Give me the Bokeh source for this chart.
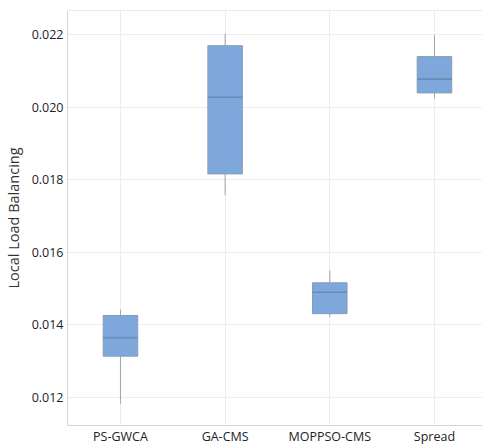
from bokeh.plotting import figure
from bokeh.models import FixedTicker, PrintfTickFormatter, Range1d, Span, ColumnDataSource
from bokeh.embed import file_html
from bokeh.resources import INLINE

categories = ["PS-GWCA", "GA-CMS", "MOPPSO-CMS", "Spread"]
whisker_low = [0.01183, 0.01757, 0.01421, 0.02024]
q1 = [0.01314, 0.01816, 0.01431, 0.02039]
median = [0.01365, 0.02027, 0.01490, 0.02077]
q3 = [0.01426, 0.02169, 0.01516, 0.02139]
whisker_high = [0.01442, 0.02202, 0.01550, 0.02198]
y_ticks = [0.012, 0.014, 0.016, 0.018, 0.020, 0.022]

pos = list(range(len(categories)))
half = 0.165
src = ColumnDataSource(dict(x=pos, lo=whisker_low, q1=q1, med=median, q3=q3, hi=whisker_high,
                            x0=[p - half for p in pos], x1=[p + half for p in pos]))

p = figure(frame_width=415, frame_height=415, output_backend="svg", toolbar_location=None,
           x_range=Range1d(-0.506, 3.459), y_range=Range1d(0.01123, 0.02266),
           min_border_left=67, min_border_right=0, min_border_top=10, min_border_bottom=0)
p.outline_line_color = None
p.background_fill_color = "white"
p.border_fill_color = "white"

p.segment(x0="x", y0="lo", x1="x", y1="hi", source=src, line_color="#a3a3a3", line_width=1)
p.vbar(x="x", width=2 * half, bottom="q1", top="q3", source=src,
       fill_color="#7ea8dc", line_color="#8a9cb3", line_width=1)
p.segment(x0="x0", y0="med", x1="x1", y1="med", source=src, line_color="#6b8ab5", line_width=1.6)

p.add_layout(Span(location=0.02266, dimension="width", line_color="#d4d4d4", line_width=1))

p.xaxis.ticker = FixedTicker(ticks=pos)
p.xaxis.major_label_overrides = {i: c for i, c in enumerate(categories)}
p.yaxis.ticker = FixedTicker(ticks=y_ticks)
p.yaxis.formatter = PrintfTickFormatter(format="%.3f")
p.yaxis.axis_label = "Local Load Balancing"

for ax in (p.xaxis, p.yaxis):
    ax.axis_line_color = "#d4d4d4"
    ax.major_tick_line_color = None
    ax.minor_tick_line_color = None
    ax.major_tick_out = 0
    ax.major_tick_in = 0
    ax.major_label_text_font = "Open Sans"
    ax.major_label_text_font_size = "12.5px"
    ax.major_label_text_color = "#222222"
    ax.major_label_standoff = 4
p.xaxis.major_label_standoff = 2
p.yaxis.axis_label_text_font = "Open Sans"
p.yaxis.axis_label_text_font_size = "14.5px"
p.yaxis.axis_label_text_font_style = "normal"
p.yaxis.axis_label_text_color = "#333333"
p.yaxis.axis_label_standoff = 6

p.xgrid.ticker = FixedTicker(ticks=pos)
p.ygrid.ticker = FixedTicker(ticks=y_ticks)
p.grid.grid_line_color = "#ededed"

open("out.html", "w").write(file_html(p, INLINE))
